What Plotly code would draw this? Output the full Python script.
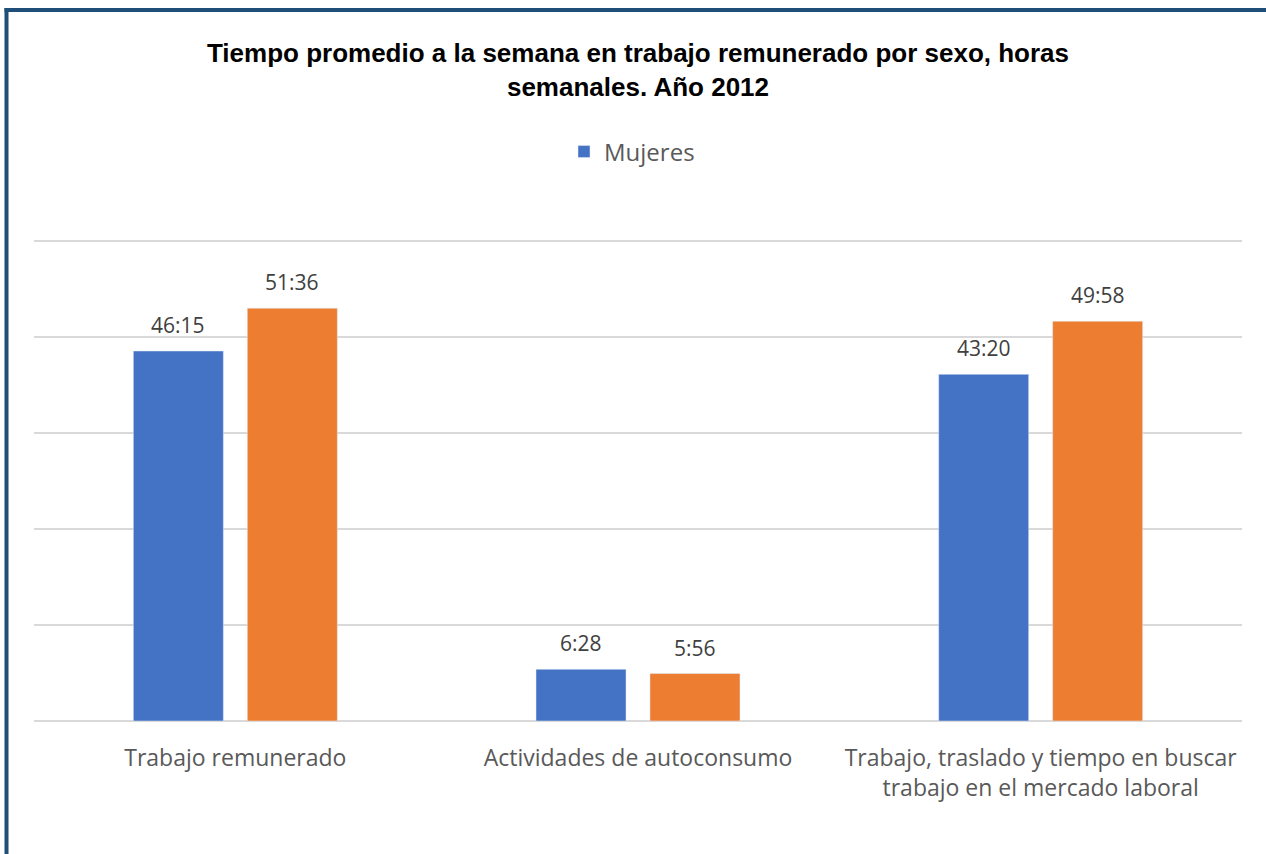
import plotly.graph_objects as go

categories = [
    "Trabajo remunerado",
    "Actividades de autoconsumo",
    "Trabajo, traslado y tiempo en buscar<br>trabajo en el mercado laboral",
]
mujeres_labels = ["46:15", "6:28", "43:20"]
hombres_labels = ["51:36", "5:56", "49:58"]


def to_hours(s):
    h, m = s.split(":")
    return int(h) + int(m) / 60.0


mujeres = [to_hours(s) for s in mujeres_labels]
hombres = [to_hours(s) for s in hombres_labels]

W, H = 1266, 854
L, R, T, B = 34, 24, 233, 133
pw, ph = W - L - R, H - T - B


def px_x(x):
    return (x - L) / pw


def px_y(y):
    return (H - B - y) / ph


FONT = "Open Sans, Noto Sans, sans-serif"
label_font = dict(family=FONT, size=21, color="#404040")

fig = go.Figure()
fig.add_trace(go.Bar(
    name="Mujeres", x=categories, y=mujeres, marker_color="#4472C4",
    hoverinfo="skip",
))
fig.add_trace(go.Bar(
    name="Hombres", x=categories, y=hombres, marker_color="#ED7D31",
    showlegend=False, hoverinfo="skip",
))

for cat, v, s in zip(categories, mujeres, mujeres_labels):
    fig.add_annotation(x=cat, y=v, text=s, showarrow=False, xshift=-57,
                       yshift=26, yanchor="middle", font=label_font)
for cat, v, s in zip(categories, hombres, hombres_labels):
    fig.add_annotation(x=cat, y=v, text=s, showarrow=False, xshift=57,
                       yshift=26, yanchor="middle", font=label_font)

border = "#1F4E79"
fig.add_shape(type="line", xref="paper", yref="paper",
              x0=px_x(6.5), x1=px_x(6.5), y0=px_y(8), y1=px_y(870),
              line=dict(color=border, width=4))
fig.add_shape(type="line", xref="paper", yref="paper",
              x0=px_x(4.5), x1=px_x(1280), y0=px_y(10), y1=px_y(10),
              line=dict(color=border, width=4))

fig.update_layout(
    width=W, height=H,
    margin=dict(l=L, r=R, t=T, b=B),
    paper_bgcolor="white", plot_bgcolor="white",
    barmode="group", bargap=0.434, bargroupgap=0.21,
    title=dict(
        text="Tiempo promedio a la semana en trabajo remunerado por sexo, horas<br>semanales. Año 2012",
        font=dict(family="Liberation Sans, Arial, sans-serif", size=26, color="black", weight="bold"),
        x=0.5, xref="paper", xanchor="center",
        y=1 - 62 / H, yref="container", yanchor="middle",
    ),
    legend=dict(
        orientation="h", x=px_x(632), xanchor="center", y=px_y(152), yanchor="middle",
        font=dict(family=FONT, size=24, color="#595959"),
        itemwidth=30,
    ),
    xaxis=dict(
        showgrid=False, showline=False, zeroline=False,
        ticks="outside", ticklen=16, tickcolor="rgba(0,0,0,0)",
        tickfont=dict(family=FONT, size=23, color="#595959"),
    ),
    yaxis=dict(
        range=[0, 61], tickvals=[0, 12, 24, 36, 48, 60], showgrid=True,
        gridcolor="#D9D9D9", gridwidth=1.5,
        zeroline=True, zerolinecolor="#D9D9D9", zerolinewidth=1.5,
        showticklabels=False, showline=False,
    ),
)

fig.write_html(
    "out.html",
    config={"displayModeBar": False},
    post_script="document.body.style.margin='0px';document.body.style.overflow='hidden';",
)
